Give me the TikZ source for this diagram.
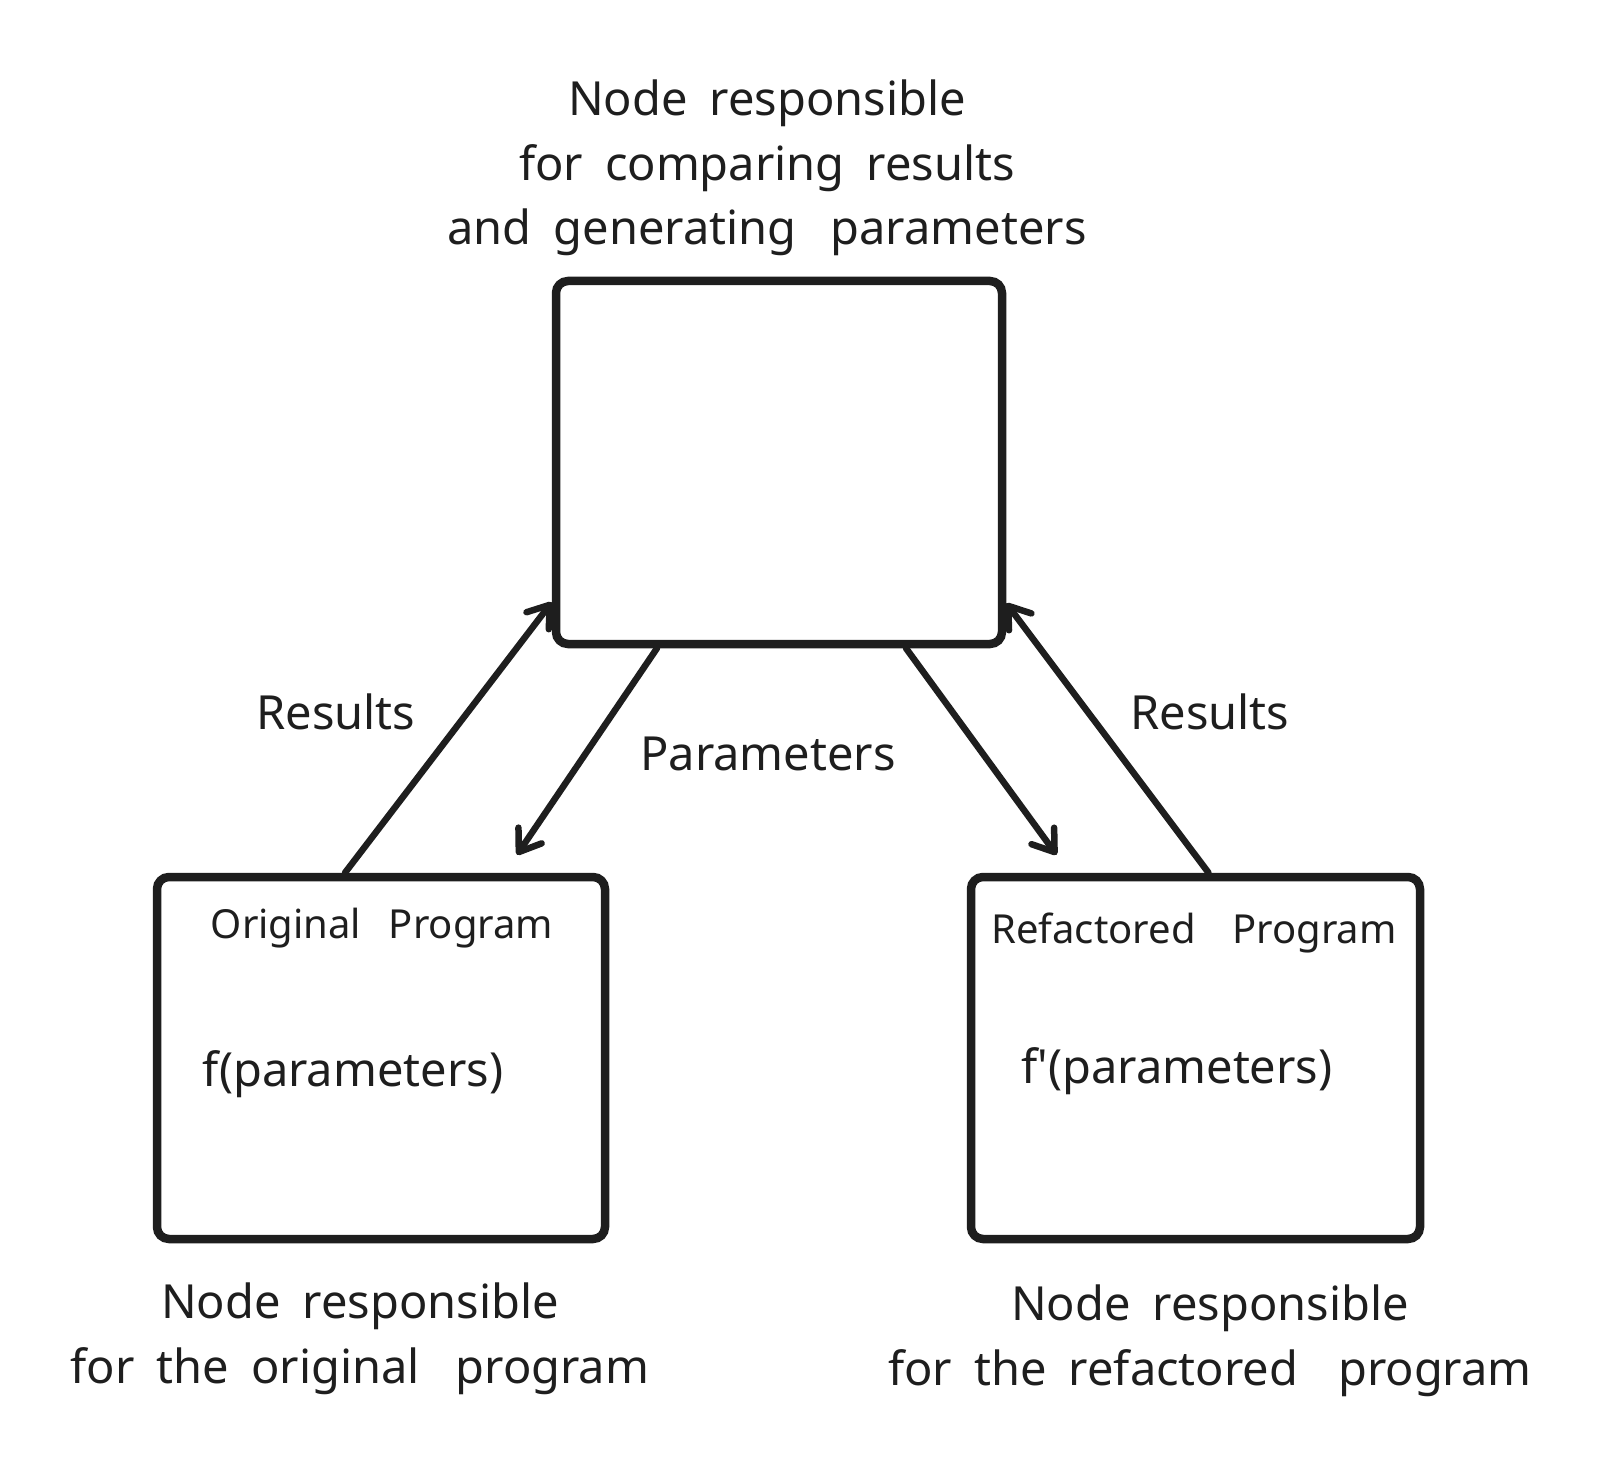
\documentclass[tikz,border=0pt]{standalone}
\usepackage{fontspec}
\setmainfont{Noto Sans}[WordSpace=1.8]
\usetikzlibrary{arrows.meta}
\definecolor{ink}{HTML}{1E1E1E}
\tikzset{
  box/.style={draw=ink, line width=8.5pt, rounded corners=12pt, inner sep=0pt},
  lbl/.style={text=ink, font=\fontsize{47}{64.5}\selectfont, align=center, inner sep=0pt},
  small/.style={text=ink, font=\fontsize{40}{48}\selectfont, inner sep=0pt},
  arr/.style={draw=ink, line width=6.5pt, line cap=round,
    -{Straight Barb[length=20pt,width=28pt,line cap=round,line join=round]}}
}
\begin{document}
\begin{tikzpicture}[x=1pt,y=-1pt]
  \useasboundingbox (0,0) rectangle (1615,1463);
  % the three nodes
  \node[box, minimum width=446pt, minimum height=363pt] (topbox) at (779,462.5) {};
  \node[box, minimum width=448pt, minimum height=362pt] (origbox) at (381,1058) {};
  \node[box, minimum width=449pt, minimum height=362pt] (refbox) at (1195.5,1058) {};
  % labels
  \node[lbl] (toplbl) at (767,168) {Node responsible\\for comparing results\\and generating \hspace{12pt}parameters};
  \node[lbl] (origlbl) at (360,1339) {Node responsible\\for the original \hspace{14pt}program};
  \node[lbl] (reflbl) at (1210,1341) {Node responsible\\for the refactored \hspace{18pt}program};
  \node[small] (origtitle) at (382,928) {Original \hspace{9pt}Program};
  \node[small] (reftitle) at (1194,933) {Refactored \hspace{18pt}Program};
  \node[lbl] (origfun) at (353,1074) {f(parameters)};
  \node[lbl] (reffun) at (1177,1071) {f\textquotesingle(parameters)};
  \node[lbl] (resleft) at (336,712) {Results};
  \node[lbl] (resright) at (1210,712) {Results};
  \node[lbl] (params) at (768,754) {Parameters};
  % connectors
  \begin{scope}
    \draw[arr] ([xshift=-36pt]origbox.north) -- ([yshift=46pt]topbox.south west);
    \draw[arr] ([xshift=-122pt]topbox.south) -- ([xshift=136pt,yshift=18pt]origbox.north);
    \draw[arr] ([xshift=127pt]topbox.south) -- ([xshift=-139pt,yshift=18pt]refbox.north);
    \draw[arr] ([xshift=13pt]refbox.north) -- ([yshift=45pt]topbox.south east);
  \end{scope}
\end{tikzpicture}
\end{document}
